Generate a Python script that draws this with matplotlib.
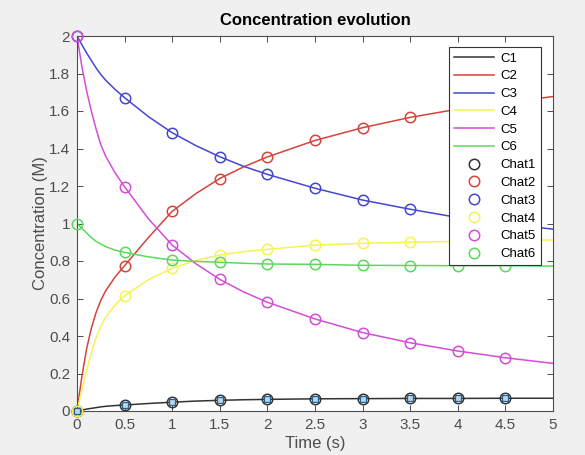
import matplotlib
matplotlib.use("Agg")
import matplotlib.pyplot as plt

plt.rcParams['font.family'] = ['Liberation Sans', 'DejaVu Sans']

# Model curves
t_line = [0, 0.05, 0.1, 0.15, 0.2, 0.25, 0.3, 0.4, 0.5, 0.75, 1, 1.25, 1.5, 1.75,
          2, 2.5, 3, 3.5, 4, 4.5, 5]
C1 = [0, 0.005, 0.010, 0.014, 0.018, 0.022, 0.025, 0.029, 0.032, 0.040, 0.047, 0.053,
      0.057, 0.060, 0.062, 0.065, 0.066, 0.067, 0.067, 0.068, 0.068]
C2 = [0, 0.18, 0.33, 0.44, 0.525, 0.59, 0.64, 0.715, 0.775, 0.925, 1.065, 1.16,
      1.24, 1.302, 1.355, 1.443, 1.511, 1.566, 1.61, 1.645, 1.677]
C3 = [2, 1.955, 1.91, 1.87, 1.83, 1.795, 1.765, 1.715, 1.671, 1.57, 1.484, 1.415,
      1.356, 1.305, 1.262, 1.188, 1.125, 1.076, 1.032, 0.997, 0.97]
C4 = [0, 0.11, 0.215, 0.31, 0.39, 0.45, 0.50, 0.565, 0.615, 0.70, 0.761, 0.803,
      0.832, 0.85, 0.862, 0.885, 0.894, 0.900, 0.905, 0.909, 0.912]
C5 = [2, 1.84, 1.71, 1.60, 1.505, 1.42, 1.36, 1.27, 1.196, 1.025, 0.885, 0.785,
      0.702, 0.635, 0.58, 0.491, 0.418, 0.364, 0.32, 0.284, 0.254]
C6 = [1, 0.975, 0.95, 0.925, 0.905, 0.89, 0.877, 0.858, 0.846, 0.822, 0.805, 0.798,
      0.793, 0.788, 0.784, 0.782, 0.777, 0.776, 0.775, 0.775, 0.773]

t_hat = [0, 0.5, 1, 1.5, 2, 2.5, 3, 3.5, 4, 4.5]
Chat1 = [0, 0.032, 0.047, 0.057, 0.062, 0.065, 0.066, 0.067, 0.067, 0.068]
Chat2 = [0, 0.775, 1.067, 1.239, 1.356, 1.445, 1.511, 1.566, 1.61, 1.645]
Chat3 = [2, 1.671, 1.484, 1.356, 1.262, 1.188, 1.125, 1.076, 1.032, 0.997]
Chat4 = [0, 0.615, 0.761, 0.832, 0.862, 0.885, 0.894, 0.900, 0.905, 0.909]
Chat5 = [2, 1.196, 0.885, 0.702, 0.58, 0.491, 0.418, 0.364, 0.32, 0.284]
Chat6 = [1, 0.846, 0.805, 0.793, 0.784, 0.782, 0.777, 0.776, 0.775, 0.775]

line_labels = ['C1', 'C2', 'C3', 'C4', 'C5', 'C6']
hat_labels = ['Chat1', 'Chat2', 'Chat3', 'Chat4', 'Chat5', 'Chat6']
colors = ['#333333', '#d4443c', '#4646d2', '#f4f455', '#d24ed6', '#5cd85c']

x_ticks = [0, 0.5, 1, 1.5, 2, 2.5, 3, 3.5, 4, 4.5, 5]
x_ticklabels = ['0', '0.5', '1', '1.5', '2', '2.5', '3', '3.5', '4', '4.5', '5']
y_ticks = [0, 0.2, 0.4, 0.6, 0.8, 1, 1.2, 1.4, 1.6, 1.8, 2]
y_ticklabels = ['0', '0.2', '0.4', '0.6', '0.8', '1', '1.2', '1.4', '1.6', '1.8', '2']

fig = plt.figure(figsize=(5.85, 4.55), dpi=100, facecolor='#f0f0f0')
ax = fig.add_axes([77/585, 1 - 411/455, (553-77)/585, (411-36)/455])
ax.set_facecolor('white')

lines_all = [C1, C2, C3, C4, C5, C6]
hats_all = [Chat1, Chat2, Chat3, Chat4, Chat5, Chat6]

for y, c, lab in zip(lines_all, colors, line_labels):
    ax.plot(t_line, y, color=c, lw=1.1, label=lab)
for y, c, lab in zip(hats_all, colors, hat_labels):
    ax.plot(t_hat, y, linestyle='none', marker='o', ms=7.5, mfc='none',
            mec=c, mew=1.1, label=lab, clip_on=False, zorder=3)

# small light-blue squares on the C1 points
ax.plot(t_hat, Chat1, linestyle='none', marker='s', ms=4.5, mfc='#b8d8ee',
        mec='#2a5f8f', mew=0.9, clip_on=False, zorder=4)

ax.set_xlim(0, 5)
ax.set_ylim(0, 2)
ax.set_xticks(x_ticks)
ax.set_xticklabels(x_ticklabels)
ax.set_yticks(y_ticks)
ax.set_yticklabels(y_ticklabels)
ax.tick_params(direction='in', top=True, right=True, length=4, width=0.7,
               colors='#4d4d4d', labelsize=11, labelcolor='#4d4d4d', pad=5)
for s in ax.spines.values():
    s.set_color('#4d4d4d')
    s.set_linewidth(0.8)

ax.set_title('Concentration evolution', fontsize=12, fontweight='bold', pad=8)
ax.set_xlabel('Time (s)', fontsize=12, color='#4d4d4d', labelpad=3)
ax.set_ylabel('Concentration (M)', fontsize=12, color='#4d4d4d', labelpad=1)

leg = ax.legend(loc='upper right', bbox_to_anchor=(0.983, 0.981), fontsize=9.5,
                frameon=True, fancybox=False, edgecolor='#333333',
                handlelength=3.0, labelspacing=0.42, borderpad=0.4,
                handletextpad=0.5, borderaxespad=0.3)
leg.get_frame().set_linewidth(0.8)
leg.get_frame().set_facecolor('white')
leg.get_frame().set_alpha(1)

fig.savefig('out.png', dpi=100, facecolor=fig.get_facecolor())
